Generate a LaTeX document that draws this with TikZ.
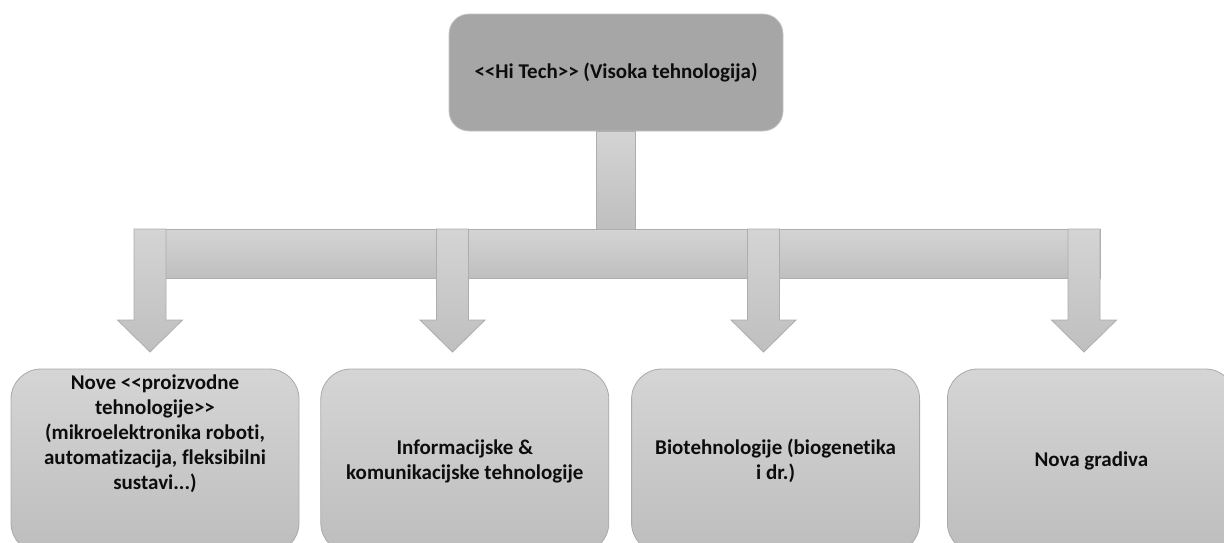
\documentclass[tikz,border=0pt]{standalone}
\usepackage{fontspec}
\newfontfamily\smartfont{Carlito}[Ligatures=NoCommon]
\usetikzlibrary{positioning}
\definecolor{topfill}{HTML}{A6A6A6}
\definecolor{topline}{HTML}{C4C4C4}
\definecolor{boxtop}{HTML}{D5D5D5}
\definecolor{boxbottom}{HTML}{BDBDBD}
\definecolor{boxline}{HTML}{A9A9A9}
\definecolor{arrowtop}{HTML}{D4D4D4}
\definecolor{arrowbottom}{HTML}{BFBFBF}
\definecolor{arrowline}{HTML}{ADADAD}
\tikzset{
    boxtext/.style={ % Text inside every box
        font=\smartfont\bfseries\fontsize{21}{25}\selectfont,
        align=center,
        text=black!95
    },
    topbox/.style={ % The dark box on top
        boxtext,
        rounded corners=20pt,
        fill=topfill, draw=topline, line width=0.8pt,
        minimum width=334pt, minimum height=117pt
    },
    subbox/.style={ % The four boxes below
        boxtext,
        rounded corners=30pt,
        top color=boxtop, bottom color=boxbottom,
        draw=boxline, line width=0.8pt,
        minimum width=288pt, minimum height=184pt
    },
    blockarrow/.style={ % Grey block connectors
        draw=arrowline, line width=0.8pt,
        top color=arrowtop, bottom color=arrowbottom
    },
    downarrow/.pic={
        \path[blockarrow] (-16,0) -- (16,0) -- (16,91) -- (32.5,91)
            -- (0,123) -- (-32.5,91) -- (-16,91) -- cycle;
    }
}

\begin{document}
\begin{tikzpicture}[x=1pt,y=-1pt]
    \useasboundingbox (0,0) rectangle (1224,542);
    \clip (0,0) rectangle (1224,542);

    \node[topbox] (hitech) at (616,72.5) {<<Hi Tech>> (Visoka tehnologija)};

    \node[subbox] (b1) at (155,461) {};
    \node[subbox, right=21pt of b1] (b2) {Informacijske \&\\komunikacijske tehnologije};
    \node[subbox, right=22pt of b2] (b3) {Biotehnologije (biogenetika\\i dr.)};
    \node[subbox, right=27pt of b3] (b4) {Nova gradiva};
    \node[boxtext] (b1text) at ([yshift=27pt]b1.center)
        {Nove <<proizvodne\\tehnologije>>\\(mikroelektronika roboti,\\automatizacija, fleksibilni\\sustavi...)};

    % stem and bar
    \coordinate (barleft) at (134,229);
    \coordinate (barright) at (1100,278);
    \path[blockarrow] ([xshift=-19.5pt]hitech.south) rectangle ([xshift=19.5pt]hitech.south |- barleft);
    \path[blockarrow] (barleft) rectangle (barright);

    % arrows down to the boxes
    \coordinate (a1) at (150,229);
    \coordinate (a2) at (452.5,229);
    \coordinate (a3) at (763.5,229);
    \coordinate (a4) at (1084,229);
    \foreach \a in {a1,a2,a3,a4}
        \pic at (\a) {downarrow};
\end{tikzpicture}
\end{document}
